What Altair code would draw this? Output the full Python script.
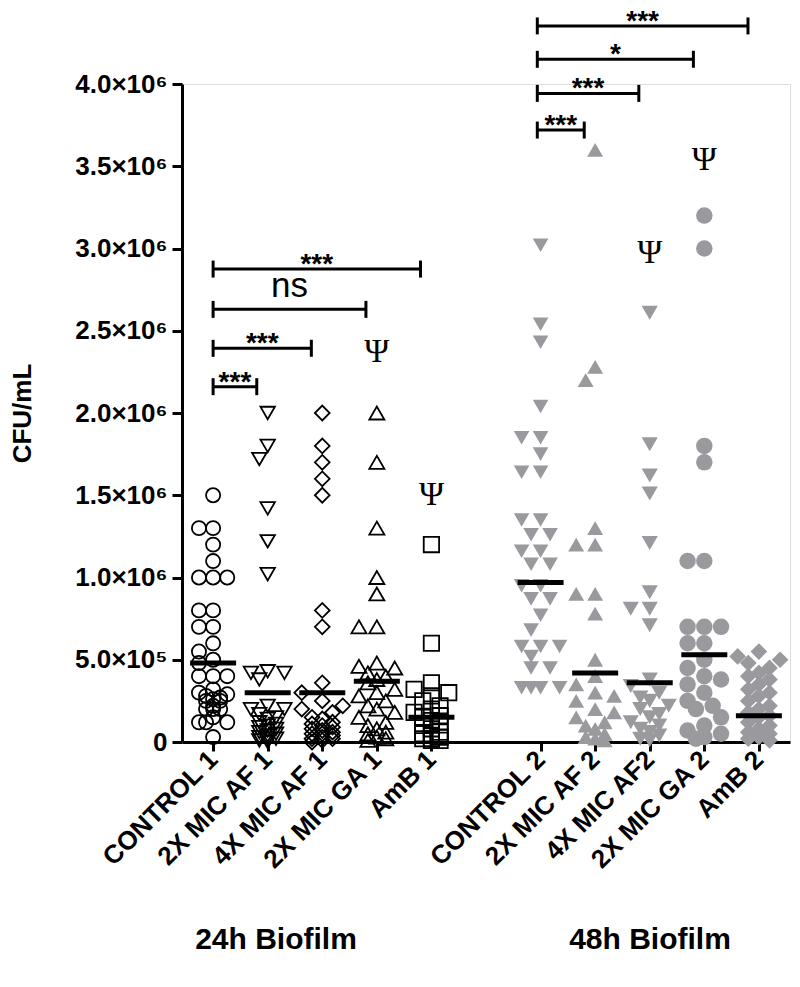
import altair as alt
import pandas as pd
import numpy as np

# ---------------- data ----------------
CATEGORIES = ["CONTROL 1", "2X MIC AF 1", "4X MIC AF 1", "2X MIC GA 1", "AmB 1",
              "CONTROL 2", "2X MIC AF 2", "4X MIC AF2", "2X MIC GA 2", "AmB 2"]
GROUPS = ["24h Biofilm", "48h Biofilm"]

# CFU/mL values, in units of 1e6
CONTROL_1 = [1.50, 1.30, 1.30, 1.20, 1.10, 1.00, 1.00, 1.00, 0.80, 0.80, 0.70, 0.70,
             0.60, 0.55, 0.50, 0.48, 0.40, 0.40, 0.40, 0.32, 0.30, 0.29, 0.28, 0.27,
             0.26, 0.25, 0.25, 0.22, 0.20, 0.20, 0.20, 0.15, 0.12, 0.12, 0.12, 0.03]
MIC2_AF_1 = [2.00, 1.80, 1.72, 1.42, 1.22, 1.02, 0.43, 0.42, 0.42, 0.38, 0.22, 0.20,
             0.20, 0.17, 0.15, 0.14, 0.12, 0.11, 0.10, 0.09, 0.08, 0.07, 0.06, 0.05,
             0.04, 0.03, 0.02, 0.02, 0.01, 0.00]
MIC4_AF_1 = [2.00, 1.80, 1.70, 1.60, 1.50, 0.80, 0.70, 0.36, 0.30, 0.25, 0.22, 0.20,
             0.18, 0.15, 0.14, 0.12, 0.11, 0.10, 0.09, 0.08, 0.07, 0.06, 0.05, 0.05,
             0.04, 0.03, 0.02, 0.02, 0.01, 0.00]
MIC2_GA_1 = [2.00, 1.70, 1.30, 1.00, 0.90, 0.70, 0.70, 0.48, 0.46, 0.45, 0.42, 0.40,
             0.38, 0.36, 0.32, 0.30, 0.28, 0.25, 0.22, 0.20, 0.18, 0.15, 0.12, 0.10,
             0.08, 0.06, 0.05, 0.03, 0.02, 0.01]
AMB_1 = [1.20, 0.60, 0.36, 0.32, 0.30, 0.28, 0.25, 0.22, 0.20, 0.18, 0.16, 0.15,
         0.13, 0.12, 0.10, 0.08, 0.06, 0.05, 0.04, 0.03, 0.02, 0.02, 0.01, 0.01]
CONTROL_2 = [3.02, 2.54, 2.43, 2.04, 1.85, 1.85, 1.75, 1.64, 1.64, 1.35, 1.35, 1.26,
             1.26, 1.16, 1.16, 1.08, 1.08, 0.95, 0.95, 0.87, 0.87, 0.77, 0.68, 0.58,
             0.58, 0.58, 0.52, 0.45, 0.45, 0.33, 0.33, 0.33, 0.33]
MIC2_AF_2 = [3.60, 2.28, 2.20, 1.30, 1.20, 1.20, 0.90, 0.90, 0.78, 0.50, 0.40, 0.35,
             0.30, 0.28, 0.25, 0.20, 0.18, 0.15, 0.12, 0.10, 0.08, 0.05, 0.03, 0.02, 0.01]
MIC4_AF_2 = [2.61, 1.81, 1.62, 1.51, 1.21, 0.91, 0.81, 0.81, 0.71, 0.38, 0.34, 0.30,
             0.27, 0.25, 0.22, 0.20, 0.17, 0.15, 0.12, 0.10, 0.08, 0.06, 0.04, 0.02, 0.01]
MIC2_GA_2 = [3.20, 3.00, 1.80, 1.70, 1.10, 1.10, 0.70, 0.70, 0.70, 0.60, 0.60, 0.50,
             0.45, 0.40, 0.38, 0.35, 0.30, 0.25, 0.22, 0.20, 0.15, 0.10, 0.07, 0.05,
             0.03, 0.02]
AMB_2 = [0.55, 0.52, 0.50, 0.48, 0.45, 0.42, 0.40, 0.38, 0.35, 0.32, 0.30, 0.28,
         0.25, 0.22, 0.20, 0.18, 0.16, 0.15, 0.12, 0.10, 0.08, 0.06, 0.05, 0.03,
         0.02, 0.01]
SERIES = [CONTROL_1, MIC2_AF_1, MIC4_AF_1, MIC2_GA_1, AMB_1,
          CONTROL_2, MIC2_AF_2, MIC4_AF_2, MIC2_GA_2, AMB_2]

# horizontal central-tendency bars (units of 1e6)
CENTER_BARS = [0.48, 0.30, 0.30, 0.37, 0.15, 0.97, 0.42, 0.36, 0.53, 0.16]

# significance brackets: from group control to category, level (1e6), label
BRACKET_FROM = ["CONTROL 1"] * 4 + ["CONTROL 2"] * 4
BRACKET_TO = ["AmB 1", "2X MIC GA 1", "4X MIC AF 1", "2X MIC AF 1",
              "AmB 2", "2X MIC GA 2", "4X MIC AF2", "2X MIC AF 2"]
BRACKET_LEVEL = [2.875, 2.63, 2.393, 2.16, 4.353, 4.150, 3.943, 3.720]
BRACKET_LABEL = ["***", "ns", "***", "***", "***", "*", "***", "***"]

# psi marks above categories (level in 1e6)
PSI_CATEGORY = ["2X MIC GA 1", "AmB 1", "4X MIC AF2", "2X MIC GA 2"]
PSI_LEVEL = [2.37, 1.50, 2.97, 3.54]

Y_TICKS = [0, 0.5, 1.0, 1.5, 2.0, 2.5, 3.0, 3.5, 4.0]
Y_TICK_LABELS = ["0", "5.0×10⁵", "1.0×10⁶", "1.5×10⁶", "2.0×10⁶", "2.5×10⁶",
                 "3.0×10⁶", "3.5×10⁶", "4.0×10⁶"]

# ---------------- styles / layout ----------------
SHAPES = ["circle", "triangle-down", "diamond", "triangle-up", "square",
          "triangle-down", "triangle-up", "triangle-down", "circle", "diamond"]
SIZES = [200, 280, 420, 320, 300, 360, 360, 360, 280, 450]
GRAY = "#9a9a9e"
FONT = "Liberation Sans"
PLOT_W, PLOT_H = 608, 658
X_DOMAIN = [0.43, 11.57]
Y_MAX = 4.0e6
SCALE = 1e6


def slot(i):
    # five categories per group, one empty slot between the groups
    return i + 1 + (1 if i >= 5 else 0)


SLOTS = [slot(i) for i in range(len(CATEGORIES))]
PX_PER_SLOT = PLOT_W / (X_DOMAIN[1] - X_DOMAIN[0])
PX_PER_VAL = PLOT_H / Y_MAX


def swarm(values, step):
    """Deterministic beeswarm offsets (pixels): spread where there is room,
    pile up in the centre where points are too dense."""
    cands = [0.0, -0.5 * step, 0.5 * step, -step, step]
    inner = cands[:3]
    placed, offs = [], []

    def mind(c, y):
        return min((np.hypot(c - px, y - py) for py, px in placed), default=1e9)

    for v in values:
        y = v * PX_PER_VAL
        chosen = None
        for c in cands:
            if mind(c, y) >= 0.8 * step:
                chosen = c
                break
        if chosen is None:
            chosen = max(inner, key=lambda c: mind(c, y))
        placed.append((y, chosen))
        offs.append(chosen)
    return offs


rows = []
for i, (cat, vals) in enumerate(zip(CATEGORIES, SERIES)):
    vals_abs = [v * SCALE for v in vals]
    step = np.sqrt(SIZES[i])
    offs = swarm(vals_abs, step)
    for v, o in zip(vals_abs, offs):
        rows.append({"cat": cat, "group": GROUPS[0] if i < 5 else GROUPS[1],
                     "x": SLOTS[i] + o / PX_PER_SLOT, "v": v})
pts = pd.DataFrame(rows)

bars = pd.DataFrame({"cat": CATEGORIES, "x": SLOTS,
                     "v": [b * SCALE for b in CENTER_BARS]})

slot_of = dict(zip(CATEGORIES, SLOTS))
INSET = 0.2
br = pd.DataFrame({
    "x1": [slot_of[c] - (0.06 if c == "CONTROL 2" else 0.0) for c in BRACKET_FROM],
    "x2": [slot_of[c] - INSET for c in BRACKET_TO],
    "v": [b * SCALE for b in BRACKET_LEVEL],
    "label": BRACKET_LABEL,
})
br["xm"] = (br["x1"] + br["x2"]) / 2
caps = pd.concat([br[["x1", "v"]].rename(columns={"x1": "x"}),
                  br[["x2", "v"]].rename(columns={"x2": "x"})])
psi = pd.DataFrame({"x": [slot_of[c] for c in PSI_CATEGORY],
                    "v": [p * SCALE for p in PSI_LEVEL], "t": ["Ψ"] * len(PSI_LEVEL)})
titles = pd.DataFrame({"t": GROUPS, "px": [94, 468]})

label_arr = [""] * 12
for c, s in zip(CATEGORIES, SLOTS):
    label_arr[s] = c
x_label_expr = "[" + ",".join("'" + t + "'" for t in label_arr) + "][round(datum.value)]"
y_label_expr = "[" + ",".join("'" + t + "'" for t in Y_TICK_LABELS) + "][round(datum.value/500000)]"

x_enc = alt.X("x:Q", scale=alt.Scale(domain=X_DOMAIN, nice=False, zero=False),
              axis=alt.Axis(values=SLOTS, labelExpr=x_label_expr, labelAngle=315,
                            labelAlign="right", labelBaseline="middle",
                            labelFontSize=26, labelFontWeight="bold", labelFont=FONT,
                            labelColor="black", labelPadding=4, labelOverlap=False,
                            labelFlush=False, tickSize=9, tickWidth=3, tickColor="black",
                            domainWidth=3, domainColor="black", grid=False, title=None))
y_enc = alt.Y("v:Q", scale=alt.Scale(domain=[0, Y_MAX], nice=False),
              axis=alt.Axis(values=[t * SCALE for t in Y_TICKS], labelExpr=y_label_expr,
                            labelFontSize=26, labelFontWeight="bold", labelFont=FONT,
                            labelColor="black", labelPadding=5, labelFlush=False,
                            tickSize=10, tickWidth=3, tickColor="black",
                            domainWidth=3, domainColor="black", grid=False,
                            title="CFU/mL", titleFont=FONT, titleFontSize=26,
                            titleFontWeight="bold", titleColor="black",
                            titleX=-160, titleY=PLOT_H / 2, titleAngle=270,
                            titleAlign="center", titleBaseline="middle"))

shape_enc = alt.Shape("cat:N", scale=alt.Scale(domain=CATEGORIES, range=SHAPES), legend=None)
size_enc = alt.Size("cat:N", scale=alt.Scale(domain=CATEGORIES, range=SIZES), legend=None)

open_pts = alt.Chart(pts).transform_filter(alt.datum.group == GROUPS[0]).mark_point(
    filled=False, color="black", strokeWidth=1.8, opacity=1
).encode(x=x_enc, y=y_enc, shape=shape_enc, size=size_enc)

gray_pts = alt.Chart(pts).transform_filter(alt.datum.group == GROUPS[1]).mark_point(
    filled=True, color=GRAY, opacity=1, strokeWidth=0
).encode(x="x:Q", y="v:Q", shape=shape_enc, size=size_enc)

bar_layer = alt.Chart(bars).mark_tick(orient="horizontal", size=46, thickness=5,
                                      color="black", opacity=1).encode(x="x:Q", y="v:Q")

br_lines = alt.Chart(br).mark_rule(color="black", strokeWidth=3).encode(
    x="x1:Q", x2="x2:Q", y="v:Q")
br_caps = alt.Chart(caps).mark_tick(orient="vertical", size=17, thickness=3,
                                    color="black", opacity=1).encode(x="x:Q", y="v:Q")
star_text = alt.Chart(br).transform_filter(alt.datum.label != "ns").mark_text(
    font=FONT, fontSize=28, fontWeight="bold", color="black", baseline="alphabetic", dy=4
).encode(x="xm:Q", y="v:Q", text="label:N")
ns_text = alt.Chart(br).transform_filter(alt.datum.label == "ns").mark_text(
    font=FONT, fontSize=35, color="black", baseline="alphabetic", dy=-12
).encode(x="xm:Q", y="v:Q", text="label:N")
psi_text = alt.Chart(psi).mark_text(font="Liberation Serif", fontSize=34, color="black",
                                    baseline="middle").encode(x="x:Q", y="v:Q", text="t:N")
title_text = alt.Chart(titles).mark_text(font=FONT, fontSize=30, fontWeight="bold",
                                         color="black", baseline="middle").encode(
    x=alt.X("px:Q", scale=None), y=alt.value(856), text="t:N")

chart = alt.layer(open_pts, gray_pts, bar_layer, br_lines, br_caps, star_text, ns_text,
                  psi_text, title_text).properties(
    width=PLOT_W, height=PLOT_H,
    autosize=alt.AutoSizeParams(type="none"),
    padding={"left": 174, "top": 76, "right": 2, "bottom": 230},
).configure_view(stroke=None).configure(background="white")

chart.save("out.html", embed_options={"renderer": "svg", "actions": False})
